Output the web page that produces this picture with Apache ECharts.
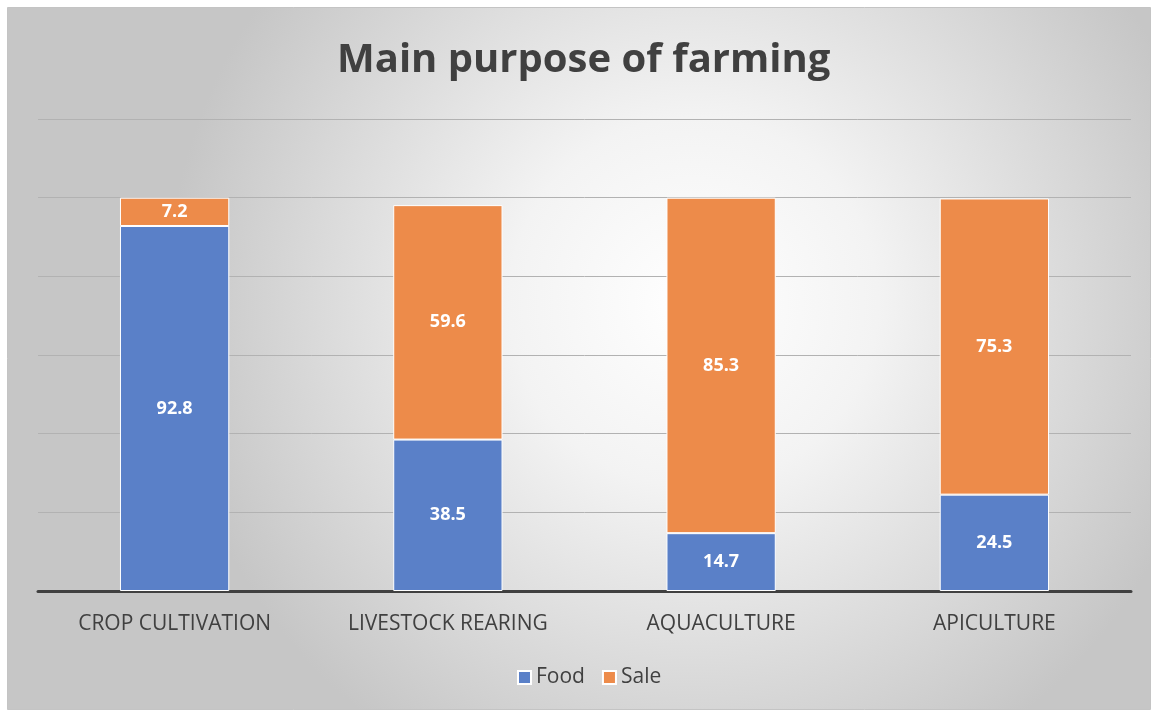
<!DOCTYPE html>
<html><head><meta charset="utf-8">
<script src="https://cdn.jsdelivr.net/npm/echarts@6/dist/echarts.min.js"></script>
<style>html,body{margin:0;padding:0;background:#fff}#c{width:1155px;height:711px}</style>
</head><body><div id="c"></div>
<script>
const categories = ['CROP CULTIVATION', 'LIVESTOCK REARING', 'AQUACULTURE', 'APICULTURE'];
const foodValues = [92.8, 38.5, 14.7, 24.5];
const saleValues = [7.2, 59.6, 85.3, 75.3];
const seriesNames = ['Food', 'Sale'];
const titleText = 'Main purpose of farming';

const chart = echarts.init(document.getElementById('c'));
const fontFam = 'Open Sans, Lato, sans-serif';
const labelStyle = {show: true, position: 'inside', color: '#fff', fontWeight: 'bold', fontSize: 18, fontFamily: fontFam};
chart.setOption({
  backgroundColor: '#fff',
  animation: false,
  graphic: [{
    type: 'rect', z: -100, silent: true,
    shape: {x: 7.5, y: 7.5, width: 1143, height: 702},
    style: {
      fill: {type: 'radial', x: 0.6, y: 0.42, r: 0.75, colorStops: [
        {offset: 0, color: '#ffffff'}, {offset: 0.35, color: '#f3f3f3'}, {offset: 1, color: '#c6c6c6'}]},
      stroke: '#c4c4c4', lineWidth: 1
    }
  }],
  title: {text: titleText, left: 332, top: 36,
    textStyle: {fontSize: 40, fontWeight: 'bold', color: '#404040', fontFamily: fontFam}},
  legend: {data: seriesNames, bottom: 18, left: 512, itemWidth: 13, itemHeight: 13, itemGap: 17,
    textStyle: {fontSize: 21, color: '#404040', fontFamily: fontFam}, icon: 'rect'},
  grid: {left: 38, right: 24, top: 119, bottom: 120},
  xAxis: {type: 'category', data: categories,
    axisLine: {lineStyle: {color: '#404040', width: 3}}, axisTick: {show: false},
    axisLabel: {fontSize: 21, color: '#404040', margin: 23, fontFamily: fontFam}},
  yAxis: {type: 'value', min: 0, max: 120, interval: 20,
    axisLabel: {show: false}, axisLine: {show: false}, axisTick: {show: false},
    splitLine: {lineStyle: {color: '#b2b2b2', width: 1}}},
  series: [
    {name: seriesNames[0], type: 'bar', stack: 's', data: foodValues, barWidth: '40%',
     itemStyle: {color: '#5a80c8', borderColor: '#ffffff', borderWidth: 1}, label: labelStyle},
    {name: seriesNames[1], type: 'bar', stack: 's', data: saleValues, barWidth: '40%',
     itemStyle: {color: '#ed8b4a', borderColor: '#ffffff', borderWidth: 1}, label: labelStyle}
  ]
});
</script></body></html>
